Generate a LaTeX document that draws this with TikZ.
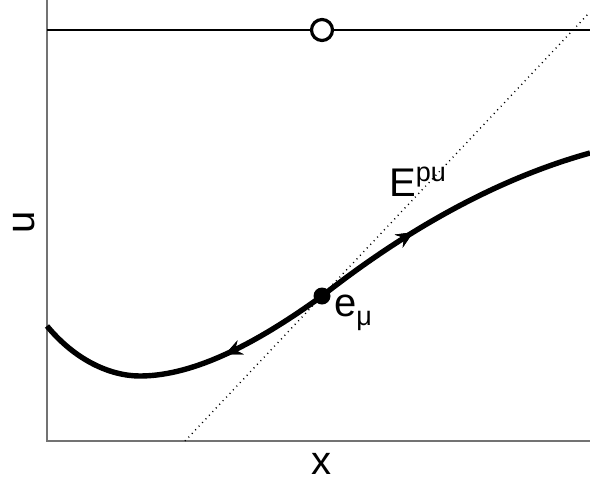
\documentclass[tikz,border=0pt]{standalone}
\usepackage{fontspec}
\setmainfont{Liberation Sans}
\usetikzlibrary{arrows.meta,decorations.markings}
\begin{document}
\begin{tikzpicture}[x=1pt,y=-1pt,
  axis/.style={draw=black!55,line width=1.5pt},
  curve/.style={line width=5.4pt,line cap=butt,line join=round},
  lbl/.style={inner sep=0pt,font=\fontsize{40}{44}\selectfont},
  midarrow/.style={postaction={decorate},decoration={markings,
     mark=at position #1 with {\arrow{Stealth[length=17pt,width=15pt,inset=6pt]}}}},
  revarrow/.style={postaction={decorate},decoration={markings,
     mark=at position #1 with {\arrowreversed{Stealth[length=17pt,width=15pt,inset=6pt]}}}}]
\useasboundingbox (0,0) rectangle (590,483);
\coordinate (o) at (47,441);
\coordinate (xe) at (590,441);
\coordinate (ye) at (47,0);
\draw[axis] (ye) -- (o) -- (xe);
\coordinate (tl) at (47,30);
\coordinate (tr) at (590,30);
\draw[line width=2.2pt] (tl) -- (tr);
\coordinate (d1) at (185,441);
\coordinate (d2) at (590,12);
\draw[line width=1.4pt,dash pattern=on 1pt off 4pt] (d1) -- (d2);
\node[circle,draw,line width=3.2pt,fill=white,minimum size=21pt,inner sep=0pt] (circ) at (322,30) {};
\coordinate (c0) at (47,326);
\coordinate (cm) at (140,376);
\coordinate (ce) at (322,296);
\coordinate (c1) at (590,153);
\draw[curve,revarrow=0.32,midarrow=0.685] (c0) .. controls (75,360) and (110,376) .. (cm)
  .. controls (200,376) and (268,335) .. (ce)
  .. controls (410,227) and (500,178) .. (c1);
\node[circle,fill=black,minimum size=17pt,inner sep=0pt] (emu) at (ce) {};
\node[lbl,anchor=base west] (el) at (334,316) {e\raisebox{-9pt}{\fontsize{27}{30}\selectfont μ}};
\node[lbl,anchor=base west] (ep) at (389,196) {E\raisebox{15pt}{\fontsize{27}{30}\selectfont pu}};
\node[lbl,rotate=90,anchor=center] (ul) at (24,222) {u};
\node[lbl,anchor=base] (xl) at (321,474) {x};
\end{tikzpicture}
\end{document}
